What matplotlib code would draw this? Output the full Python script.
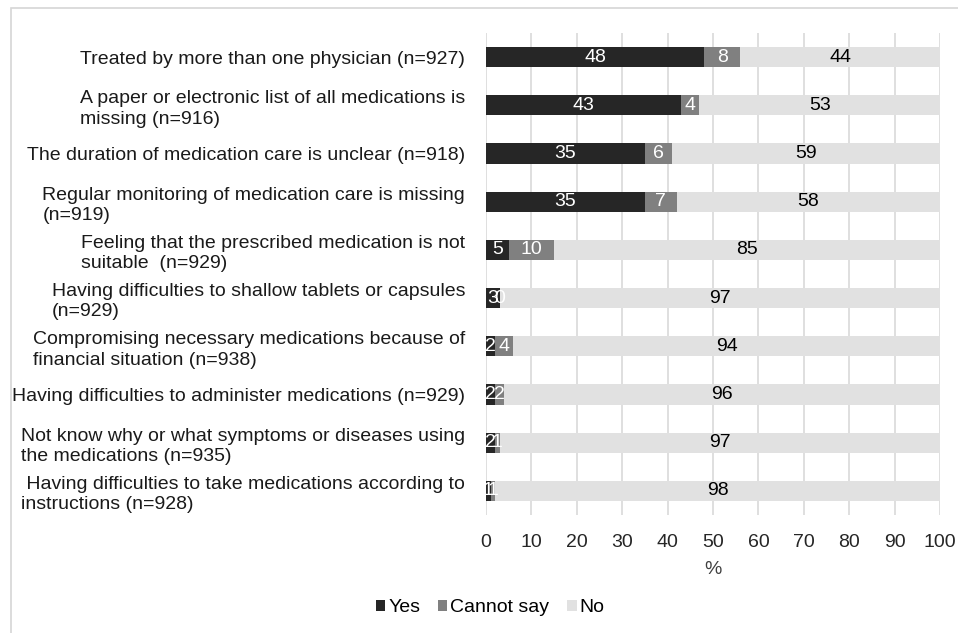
import matplotlib
matplotlib.use("Agg")

import matplotlib.pyplot as plt
from matplotlib.patches import Rectangle
import numpy as np

plt.rcParams["font.family"] = ["Liberation Sans", "DejaVu Sans"]

# -----------------------------
# Data (top row first)
# -----------------------------
items = [
    "Treated by more than one physician (n=927)",
    "A paper or electronic list of all medications is\nmissing (n=916)",
    "The duration of medication care is unclear (n=918)",
    "Regular monitoring of medication care is missing\n(n=919)",
    "Feeling that the prescribed medication is not\nsuitable  (n=929)",
    "Having difficulties to shallow tablets or capsules\n(n=929)",
    "Compromising necessary medications because of\nfinancial situation (n=938)",
    "Having difficulties to administer medications (n=929)",
    "Not know why or what symptoms or diseases using\nthe medications (n=935)",
    " Having difficulties to take medications according to\ninstructions (n=928)",
]

yes = [48, 43, 35, 35, 5, 3, 2, 2, 2, 1]
cannot_say = [8, 4, 6, 7, 10, 0, 4, 2, 1, 1]
no = [44, 53, 59, 58, 85, 97, 94, 96, 97, 98]

series_names = ["Yes", "Cannot say", "No"]
colors = ["#262626", "#808080", "#e1e1e1"]
text_colors = ["white", "white", "black"]

FS = 14


def main():
    fig = plt.figure(figsize=(9.58, 6.33), dpi=100)
    ax = fig.add_axes([486 / 958, 1 - 515 / 633, 454 / 958, 482 / 633])

    # outer frame like the source image
    fig.patches.append(Rectangle((11 / 958, -0.05), 1.1, 1.05 - 8 / 633,
                                 transform=fig.transFigure, fill=False,
                                 edgecolor="#d6d6d6", linewidth=1.2))

    y = np.arange(len(items))
    left = np.zeros(len(items))
    for vals, name, col, tcol in zip([yes, cannot_say, no], series_names, colors, text_colors):
        vals = np.array(vals, dtype=float)
        bars = ax.barh(y, vals, left=left, height=0.42, color=col, label=name, zorder=2)
        ax.bar_label(bars, labels=[str(int(v)) for v in vals], label_type="center",
                     color=tcol, fontsize=FS)
        left += vals

    ax.set_ylim(len(items) - 0.5, -0.5)
    ax.set_xlim(0, 100)
    ax.set_xticks(np.arange(0, 101, 10))
    ax.set_yticks(y)
    ax.set_yticklabels(items, fontsize=FS, multialignment="left", linespacing=1.25,
                       color="#1a1a1a")
    ax.tick_params(axis="y", length=0, pad=15)
    ax.tick_params(axis="x", length=0, pad=14, labelsize=FS, colors="#262626")
    ax.grid(axis="x", color="#d9d9d9", linewidth=1.2, zorder=0)
    ax.set_axisbelow(True)
    for s in ax.spines.values():
        s.set_visible(False)
    ax.set_xlabel("%", fontsize=FS, labelpad=7, color="#404040")

    fig.legend(loc="center", bbox_to_anchor=(490 / 958, 1 - 608 / 633), ncol=3,
               frameon=False, fontsize=FS, handlelength=0.5, handleheight=0.5,
               handletextpad=0.15, columnspacing=0.9)

    fig.savefig("out.png", dpi=100)
    plt.close(fig)


if __name__ == "__main__":
    main()
